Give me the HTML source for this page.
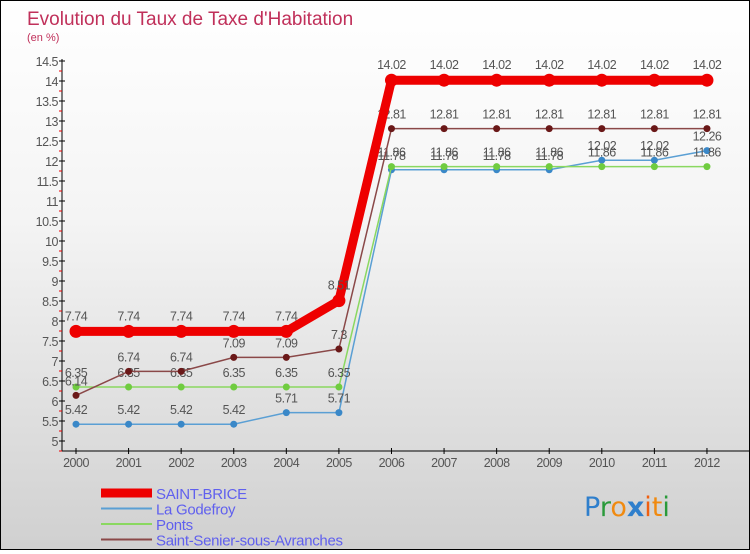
<!DOCTYPE html>
<html><head><meta charset="utf-8"><style>
body{margin:0;width:750px;height:550px;overflow:hidden;font-family:"Liberation Sans",sans-serif}
#wrap{position:absolute;left:0;top:0;width:748px;height:548px;border:1px solid #000;background:linear-gradient(#ffffff,#f4f4f4 40%,#d0d0d0)}
</style></head><body>
<div id="wrap">
<svg id="svg" width="748" height="548" xmlns="http://www.w3.org/2000/svg">
<text x="26" y="24" font-size="19" fill="#c0305a">Evolution du Taux de Taxe d'Habitation</text>
<text x="26" y="40" font-size="11" fill="#c0305a">(en %)</text>
<g id="axes"></g><g id="series"></g><g id="legend"></g>
<text x="583" y="515" font-size="27" font-family="DejaVu Sans, sans-serif"><tspan fill="#2f7fcc">P</tspan><tspan fill="#2a9a3a">r</tspan><tspan fill="#f08a10">o</tspan><tspan fill="#2f7fcc" font-weight="bold">x</tspan><tspan fill="#f06010">i</tspan><tspan fill="#f08a10">t</tspan><tspan fill="#2a9a3a">i</tspan></text>
</svg></div>
<script>
const years=[2000,2001,2002,2003,2004,2005,2006,2007,2008,2009,2010,2011,2012];
const saintBrice=[7.74,7.74,7.74,7.74,7.74,8.51,14.02,14.02,14.02,14.02,14.02,14.02,14.02];
const laGodefroy=[5.42,5.42,5.42,5.42,5.71,5.71,11.78,11.78,11.78,11.78,12.02,12.02,12.26];
const ponts=[6.35,6.35,6.35,6.35,6.35,6.35,11.86,11.86,11.86,11.86,11.86,11.86,11.86];
const saintSenier=[6.14,6.74,6.74,7.09,7.09,7.3,12.81,12.81,12.81,12.81,12.81,12.81,12.81];
const yTicks=[5,5.5,6,6.5,7,7.5,8,8.5,9,9.5,10,10.5,11,11.5,12,12.5,13,13.5,14,14.5];
const NS="http://www.w3.org/2000/svg";
const X=i=>75+i*52.58, Y=v=>440-(v-5)*40;
function mk(t,a,p){const e=document.createElementNS(NS,t);for(const k in a)e.setAttribute(k,a[k]);p.appendChild(e);return e;}
const ax=document.getElementById('axes');
let l=mk('line',{x1:61,y1:58,x2:61,y2:450,stroke:'#000'},ax);

l=mk('line',{x1:61,y1:450,x2:748,y2:450,stroke:'#000'},ax);

yTicks.forEach(v=>{const y=Y(v);mk('line',{x1:58,y1:y,x2:64,y2:y,stroke:'#000'},ax);
 mk('line',{x1:58,y1:y+10,x2:61,y2:y+10,stroke:'#e00'},ax);
 const t=mk('text',{x:57,y:y+5,'font-size':12.5,fill:'#555','text-anchor':'end','letter-spacing':'-0.5'},ax);t.textContent=String(v);
 });
years.forEach((yr,i)=>{const x=X(i);mk('line',{x1:x,y1:447,x2:x,y2:453,stroke:'#000'},ax);
 const t=mk('text',{x:x,y:466,'font-size':12.5,fill:'#555','text-anchor':'middle','letter-spacing':'-0.5'},ax);t.textContent=yr;
 });
const sg=document.getElementById('series');
const S=[
 {n:'La Godefroy',d:laGodefroy,c:'#5a9fd4',dot:'#3a88c8',w:1.5,r:3.5,off:-10},
 {n:'Ponts',d:ponts,c:'#8ad860',dot:'#70cc40',w:1.5,r:3.5,off:-10},
 {n:'Saint-Senier-sous-Avranches',d:saintSenier,c:'#8a4848',dot:'#6a1818',w:1.5,r:3.5,off:-10},
 {n:'SAINT-BRICE',d:saintBrice,c:'#ee0000',dot:'#ee0000',w:9,r:6.5,off:-11}];
S.forEach(s=>{const g=mk('g',{},sg);
 
 mk('polyline',{points:s.d.map((v,i)=>X(i)+','+Y(v)).join(' '),fill:'none',stroke:s.c,'stroke-width':s.w},g);
 s.d.forEach((v,i)=>{const c=mk('circle',{cx:X(i),cy:Y(v),r:s.r,fill:s.dot},g);
  
  const t=mk('text',{x:X(i),y:Y(v)+s.off,'font-size':12.5,fill:'#555','text-anchor':'middle','letter-spacing':'-0.5'},g);t.textContent=String(v);
  });});
const lg=document.getElementById('legend');
[['SAINT-BRICE','#ee0000',9],['La Godefroy','#5a9fd4',2],['Ponts','#8ad860',2],['Saint-Senier-sous-Avranches','#8a4848',2]].forEach((e,i)=>{
 const y=492+i*15.5;const g=mk('g',{},lg);
 
 mk('line',{x1:100,y1:y,x2:151,y2:y,stroke:e[1],'stroke-width':e[2]},g);
 const t=mk('text',{x:155,y:y+6,'font-size':15,fill:'#6060ee','letter-spacing':'-0.3'},g);t.textContent=e[0];});
</script>
</body></html>
